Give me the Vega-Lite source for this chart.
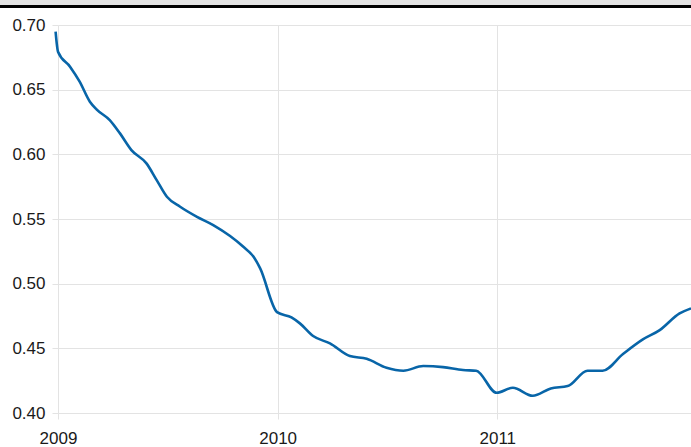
{
  "$schema": "https://vega.github.io/schema/vega-lite/v6.json",
  "width": 633,
  "height": 388,
  "autosize": "none",
  "padding": {"left": 58, "top": 25, "right": 0, "bottom": 34},
  "background": "white",
  "config": {
    "view": {"stroke": null},
    "font": "Liberation Sans",
    "axis": {
      "domain": false,
      "gridColor": "#e3e3e3",
      "gridWidth": 1,
      "tickColor": "#e3e3e3",
      "tickSize": 6,
      "labelFontSize": 17,
      "labelColor": "#1a1a1a",
      "labelFont": "Liberation Sans",
      "title": null
    }
  },
  "data": {
    "values": [
      {"date": "2008-12-28", "value": 0.6948},
      {"date": "2009-01-01", "value": 0.6794},
      {"date": "2009-01-21", "value": 0.6678},
      {"date": "2009-02-06", "value": 0.6562},
      {"date": "2009-02-23", "value": 0.6407},
      {"date": "2009-03-06", "value": 0.6348},
      {"date": "2009-03-28", "value": 0.6265},
      {"date": "2009-04-14", "value": 0.6162},
      {"date": "2009-05-03", "value": 0.6033},
      {"date": "2009-05-28", "value": 0.5930},
      {"date": "2009-06-14", "value": 0.5801},
      {"date": "2009-07-01", "value": 0.5672},
      {"date": "2009-07-23", "value": 0.5595},
      {"date": "2009-08-20", "value": 0.5517},
      {"date": "2009-09-16", "value": 0.5453},
      {"date": "2009-10-14", "value": 0.5368},
      {"date": "2009-11-05", "value": 0.5285},
      {"date": "2009-11-22", "value": 0.5208},
      {"date": "2009-12-03", "value": 0.5118},
      {"date": "2009-12-31", "value": 0.4780},
      {"date": "2010-01-24", "value": 0.4739},
      {"date": "2010-02-07", "value": 0.4693},
      {"date": "2010-03-01", "value": 0.4595},
      {"date": "2010-03-29", "value": 0.4538},
      {"date": "2010-05-01", "value": 0.4440},
      {"date": "2010-05-29", "value": 0.4419},
      {"date": "2010-07-01", "value": 0.4350},
      {"date": "2010-07-29", "value": 0.4327},
      {"date": "2010-08-31", "value": 0.4363},
      {"date": "2010-10-03", "value": 0.4355},
      {"date": "2010-11-05", "value": 0.4332},
      {"date": "2010-11-27", "value": 0.4327},
      {"date": "2010-12-31", "value": 0.4156},
      {"date": "2011-01-27", "value": 0.4195},
      {"date": "2011-03-01", "value": 0.4133},
      {"date": "2011-03-31", "value": 0.4190},
      {"date": "2011-04-28", "value": 0.4208},
      {"date": "2011-05-31", "value": 0.4327},
      {"date": "2011-06-25", "value": 0.4327},
      {"date": "2011-07-29", "value": 0.4456},
      {"date": "2011-08-31", "value": 0.4569},
      {"date": "2011-09-28", "value": 0.4641},
      {"date": "2011-10-31", "value": 0.4770},
      {"date": "2011-11-19", "value": 0.4809}
    ]
  },
  "layer": [
    {
      "mark": {"type": "line", "color": "#0865a8", "strokeWidth": 2.6, "interpolate": "monotone", "clip": false},
      "encoding": {
        "x": {
          "field": "date", "type": "temporal",
          "scale": {"type": "utc", "domain": [{"year": 2009, "month": 1, "date": 1, "utc": true}, {"year": 2011, "month": 11, "date": 19, "utc": true}]},
          "axis": {
            "values": [
              {"year": 2009, "month": 1, "date": 1, "utc": true},
              {"year": 2010, "month": 1, "date": 1, "utc": true},
              {"year": 2011, "month": 1, "date": 1, "utc": true}
            ],
            "format": "%Y", "formatType": "utc", "labelPadding": 11, "labelFlush": false, "labelOverlap": false
          }
        },
        "y": {
          "field": "value", "type": "quantitative",
          "scale": {"domain": [0.4, 0.7], "zero": false},
          "axis": {"values": [0.4, 0.45, 0.5, 0.55, 0.6, 0.65, 0.7], "format": ".2f", "labelPadding": 7}
        }
      }
    },
    {
      "mark": {"type": "rect", "fill": "#e2e2e2", "clip": false},
      "encoding": {
        "x": {"datum": {"year": 2008, "month": 1, "date": 1, "utc": true}, "type": "temporal"},
        "x2": {"datum": {"year": 2013, "month": 1, "date": 1, "utc": true}},
        "y": {"datum": 0.7150, "type": "quantitative", "scale": {"domain": [0.4, 0.7], "zero": false}},
        "y2": {"datum": 0.7192}
      }
    },
    {
      "mark": {"type": "rule", "color": "#000000", "strokeWidth": 3, "clip": false},
      "encoding": {
        "x": {"datum": {"year": 2008, "month": 1, "date": 1, "utc": true}, "type": "temporal"},
        "x2": {"datum": {"year": 2013, "month": 1, "date": 1, "utc": true}},
        "y": {"datum": 0.7143, "type": "quantitative"}
      }
    }
  ]
}
